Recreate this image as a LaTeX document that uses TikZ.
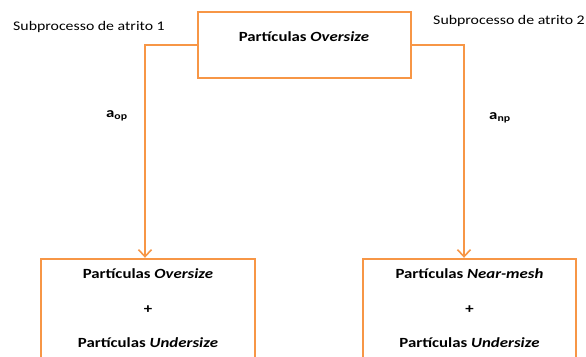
\documentclass[tikz,border=0pt]{standalone}
\usepackage{fontspec}
\setmainfont[FakeStretch=1.2]{Carlito}
\usetikzlibrary{arrows.meta}
\definecolor{borange}{HTML}{F79646}
\tikzset{
  box/.style={draw=borange, line width=2.4pt, rectangle, inner sep=0pt},
  conn/.style={draw=borange, line width=2.4pt, -{Straight Barb[length=7pt,width=13pt,line width=1.6pt]}},
  btxt/.style={font=\fontsize{14}{16}\selectfont\bfseries, inner sep=0pt, anchor=base},
  stxt/.style={font=\fontsize{13.2}{16}\selectfont, inner sep=0pt, anchor=base},
}
\begin{document}
\begin{tikzpicture}[x=1pt,y=-1pt]
\useasboundingbox (0,0) rectangle (586,356);
\clip (0,0) rectangle (586,356);
% boxes
\node[box, minimum width=213pt, minimum height=66pt] (top) at (304.5,45) {};
\node[box, minimum width=214pt, minimum height=140pt] (bl) at (148,329) {};
\node[box, minimum width=213pt, minimum height=140pt] (br) at (469.5,329) {};
% texts
\node[btxt] (toptext) at (304,41) {Partículas \textit{Oversize}};
\node[btxt] (bl1) at (148,278) {Partículas \textit{Oversize}};
\node[btxt] (bl2) at (148,313) {+};
\node[btxt] (bl3) at (148,347) {Partículas \textit{Undersize}};
\node[btxt] (br1) at (469.5,278) {Partículas \textit{Near-mesh}};
\node[btxt] (br2) at (469.5,313) {+};
\node[btxt] (br3) at (469.5,347) {Partículas \textit{Undersize}};
\node[stxt, anchor=base west] (sp1) at (13,30) {Subprocesso de atrito 1};
\node[stxt, anchor=base east] (sp2) at (585,24) {Subprocesso de atrito 2};
\node[btxt, anchor=base west] (aop) at (106,117) {a\textsubscript{op}};
\node[btxt, anchor=base west] (anp) at (489,119) {a\textsubscript{np}};
% connectors
\draw[conn] (top.west) -| ([xshift=-3pt]bl.north);
\draw[conn] (top.east) -| ([xshift=-5.5pt]br.north);
\end{tikzpicture}
\end{document}
